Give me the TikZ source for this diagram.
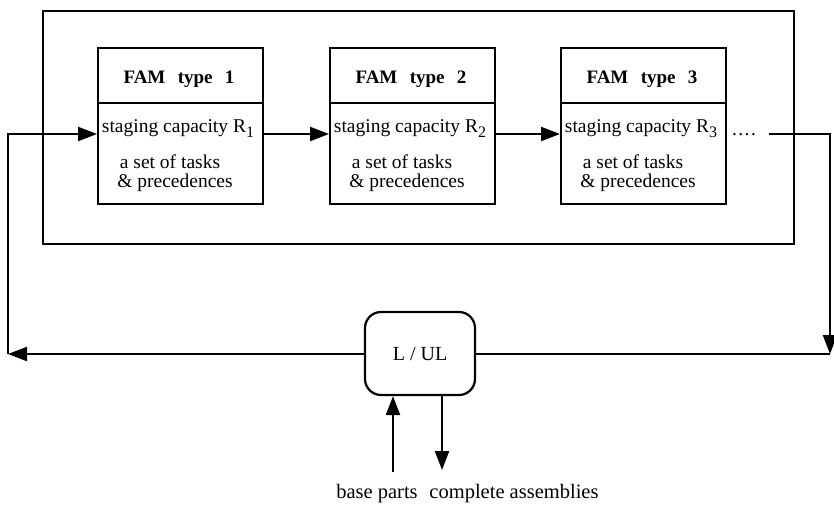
\documentclass[tikz,border=0pt]{standalone}
\usepackage{fontspec}
\setmainfont{Liberation Serif}
\usetikzlibrary{arrows.meta}
\newcommand{\mysub}[1]{\raisebox{-5pt}{\fontsize{16}{16}\selectfont #1}}
\begin{document}
\begin{tikzpicture}[x=1pt,y=-1pt,
  line width=2.2pt,
  tip/.style={-{Triangle[length=19pt,width=14pt]}},
  fambox/.style={draw, minimum width=165pt, inner sep=0pt, anchor=north west},
  txt/.style={font=\fontsize{19.5}{21}\selectfont, inner sep=0pt, anchor=base},
  bold/.style={font=\fontsize{19}{21}\selectfont\bfseries, inner sep=0pt, anchor=base},
  lowtxt/.style={font=\fontsize{20.5}{22}\selectfont, inner sep=0pt, anchor=base},
  lulbox/.style={draw, rounded corners=16pt, minimum width=110pt, minimum height=83pt, inner sep=0pt, font=\fontsize{20}{22}\selectfont}
]
\useasboundingbox (0,0) rectangle (834,506);

% outer frame
\node[draw, minimum width=751pt, minimum height=233pt, inner sep=0pt, anchor=north west] (outer) at (42,10) {};

% FAM boxes
\foreach \i/\L in {1/97, 2/329, 3/560} {
  \node[fambox, minimum height=55pt] (h\i) at (\L,47) {};
  \node[fambox, minimum height=101pt] (b\i) at (\L,102) {};
  \node[bold] (t\i) at (\L+82,83) {FAM\hspace{0.65em}type\hspace{0.65em}\i};
  \node[txt] (s\i) at (\L+81,132) {staging capacity R\mysub{\i}};
  \node[txt] (a\i) at (\L+73,168) {a set of tasks};
  \node[txt] (p\i) at (\L+78,187) {\& precedences};
}

\coordinate (row) at (0,134);

% arrows between FAM boxes
\draw[tip] (b1.east |- row) -- (b2.west |- row);
\draw[tip] (b2.east |- row) -- (b3.west |- row);

% dots and right return
\node[txt] (dots) at (744,135) {.\hspace{1.5pt}.\hspace{1.5pt}.\hspace{1.5pt}.};
\coordinate (rs) at (769,134);
\coordinate (rc) at (830,134);
\coordinate (rb) at (830,354);

% L/UL station
\node[lulbox] (lul) at (420,353.5) {L / UL};

\draw[tip] (rs) -- (rc) -- (rb);
\draw (rb) -- (lul.east |- rb);

% left return
\coordinate (lb) at (8,354);
\coordinate (lt) at (8,134);
\draw[tip] (lul.west |- lb) -- (lb);
\draw[tip] (lb) -- (lt) -- (b1.west |- row);

% base parts / complete assemblies
\coordinate (bp) at (393,472);
\coordinate (ca) at (442,470);
\draw[tip] (bp) -- (bp |- lul.south);
\draw[tip] (ca |- lul.south) -- (ca);

\node[lowtxt] (btxt) at (377,498) {base parts};
\node[lowtxt] (ctxt) at (514,498) {complete assemblies};
\end{tikzpicture}
\end{document}
